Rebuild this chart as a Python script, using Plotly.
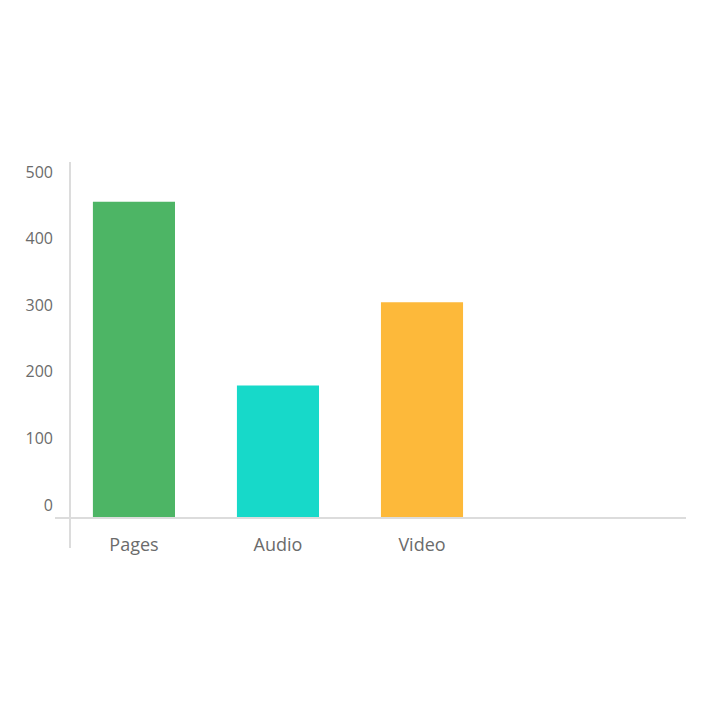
import plotly.graph_objects as go

categories = ["Pages", "Audio", "Video"]
values = [475, 199, 324]
colors = ["#4DB565", "#17D9C9", "#FDB93A"]
y_ticks = [0, 100, 200, 300, 400, 500]

fig = go.Figure(go.Bar(
    x=categories, y=values, marker=dict(color=colors, line=dict(width=0)),
    width=0.57,
))

axis_color = "#DCDCDC"
fig.update_layout(
    width=720, height=720,
    margin=dict(l=62, r=42, t=154, b=210),
    paper_bgcolor="white", plot_bgcolor="white",
    font=dict(family="'Open Sans', 'Noto Sans', sans-serif", size=16, color="#6B6B6B"),
    showlegend=False,
    xaxis=dict(range=[-0.444, 3.833], showgrid=False, zeroline=False, showline=False,
               ticks="", ticklabelstandoff=14, fixedrange=True, automargin=False,
               tickfont=dict(size=18)),
    yaxis=dict(range=[0, 534.5], tickvals=y_ticks, showgrid=False, zeroline=False,
               showline=False, ticks="", ticklabelstandoff=16, ticklabelshift=-13,
               fixedrange=True, automargin=False, tickfont=dict(size=16)),
    shapes=[
        dict(type="line", xref="paper", yref="paper", x0=-15/616, x1=1, y0=0, y1=0,
             line=dict(color=axis_color, width=2), layer="above"),
        dict(type="line", xref="paper", yref="paper", x0=0, x1=0, y0=-30/356, y1=1,
             line=dict(color=axis_color, width=2), layer="below"),
    ],
)

fig.write_html("out.html")
